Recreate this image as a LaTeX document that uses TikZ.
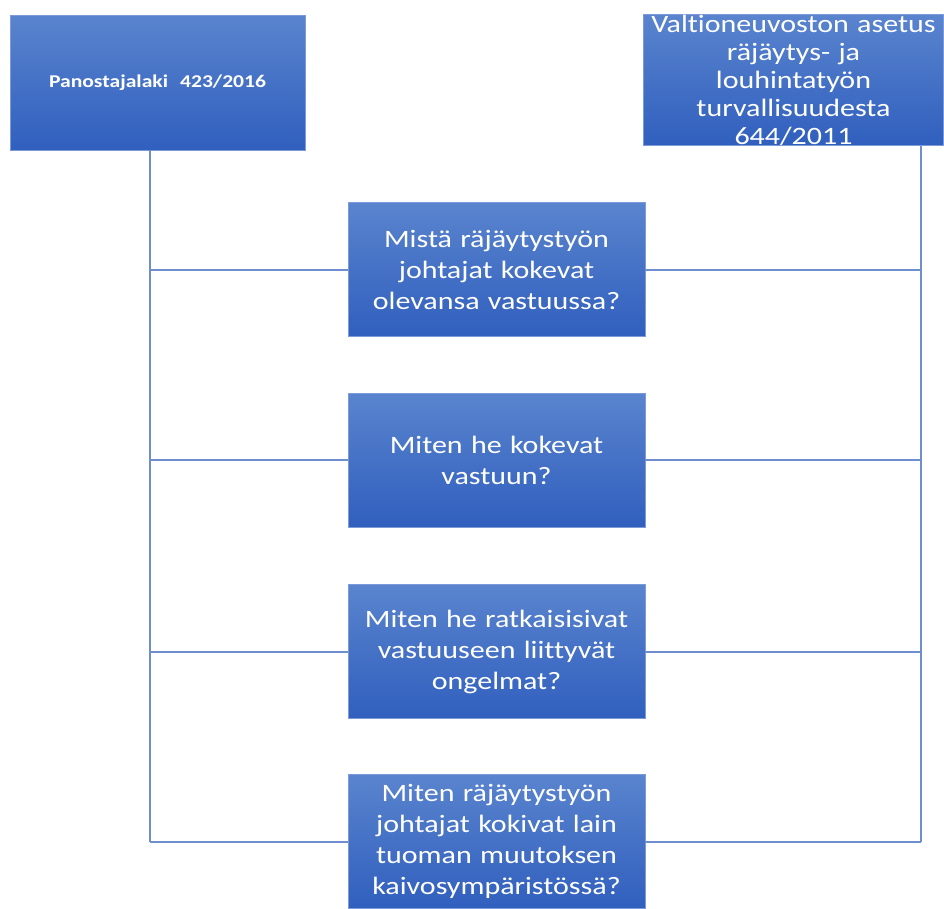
\documentclass[tikz,border=0pt]{standalone}
\usepackage{fontspec}
\setmainfont{Carlito}[Ligatures=CommonOff,FakeStretch=1.2]
\usepackage{xcolor}
\usetikzlibrary{positioning}

\definecolor{boxtop}{HTML}{5A84CE}
\definecolor{boxbot}{HTML}{305FBE}
\definecolor{boxedge}{HTML}{7C9BD8}
\definecolor{linkblue}{HTML}{6F8ECE}

\begin{document}
\begin{tikzpicture}[x=1pt,y=-1pt,
    lawbox/.style={rectangle,draw=boxedge,line width=0.8pt,top color=boxtop,bottom color=boxbot,
        text=white,align=center,inner sep=0pt},
    qbox/.style={lawbox,minimum width=297,minimum height=134,text width=290,
        font=\fontsize{25}{31}\selectfont},
    link/.style={draw=linkblue,line width=2pt}]
    \useasboundingbox (0,0) rectangle (944,908);

    % the two laws on top
    \node[lawbox,minimum width=295,minimum height=135,text width=290,
        font=\bfseries\fontsize{18}{21}\selectfont] (law) at (157.5,82.5) {Panostajalaki\ \ 423/2016};
    \node[lawbox,minimum width=293,minimum height=130,text width=300,
        font=\fontsize{25}{28}\selectfont] (decree) at (793.5,80) {Valtioneuvoston asetus\\r\"aj\"aytys- ja\\louhintaty\"on\\turvallisuudesta\\644/2011};

    % the four questions
    \node[qbox] (q1) at (496.5,269.5) {Mist\"a r\"aj\"aytysty\"on\\johtajat kokevat\\olevansa vastuussa?};
    \node[qbox] (q2) at (496.5,460) {Miten he kokevat\\vastuun?};
    \node[qbox] (q3) at (496.5,651.5) {Miten he ratkaisisivat\\vastuuseen liittyv\"at\\ongelmat?};
    \node[qbox] (q4) at (496.5,841.5) {Miten r\"aj\"aytysty\"on\\johtajat kokivat lain\\tuoman muutoksen\\kaivosymp\"arist\"oss\"a?};

    % side rails
    \coordinate (lrail) at (150,0);
    \coordinate (rrail) at (921,0);
    \draw[link] (law.south -| lrail) -- (q4.west -| lrail);
    \draw[link] (decree.south -| rrail) -- (q4.east -| rrail);
    \foreach \q in {q1,q2,q3,q4} {
        \draw[link] (\q.west) -- (\q.west -| lrail);
        \draw[link] (\q.east) -- (\q.east -| rrail);
    }
\end{tikzpicture}
\end{document}
